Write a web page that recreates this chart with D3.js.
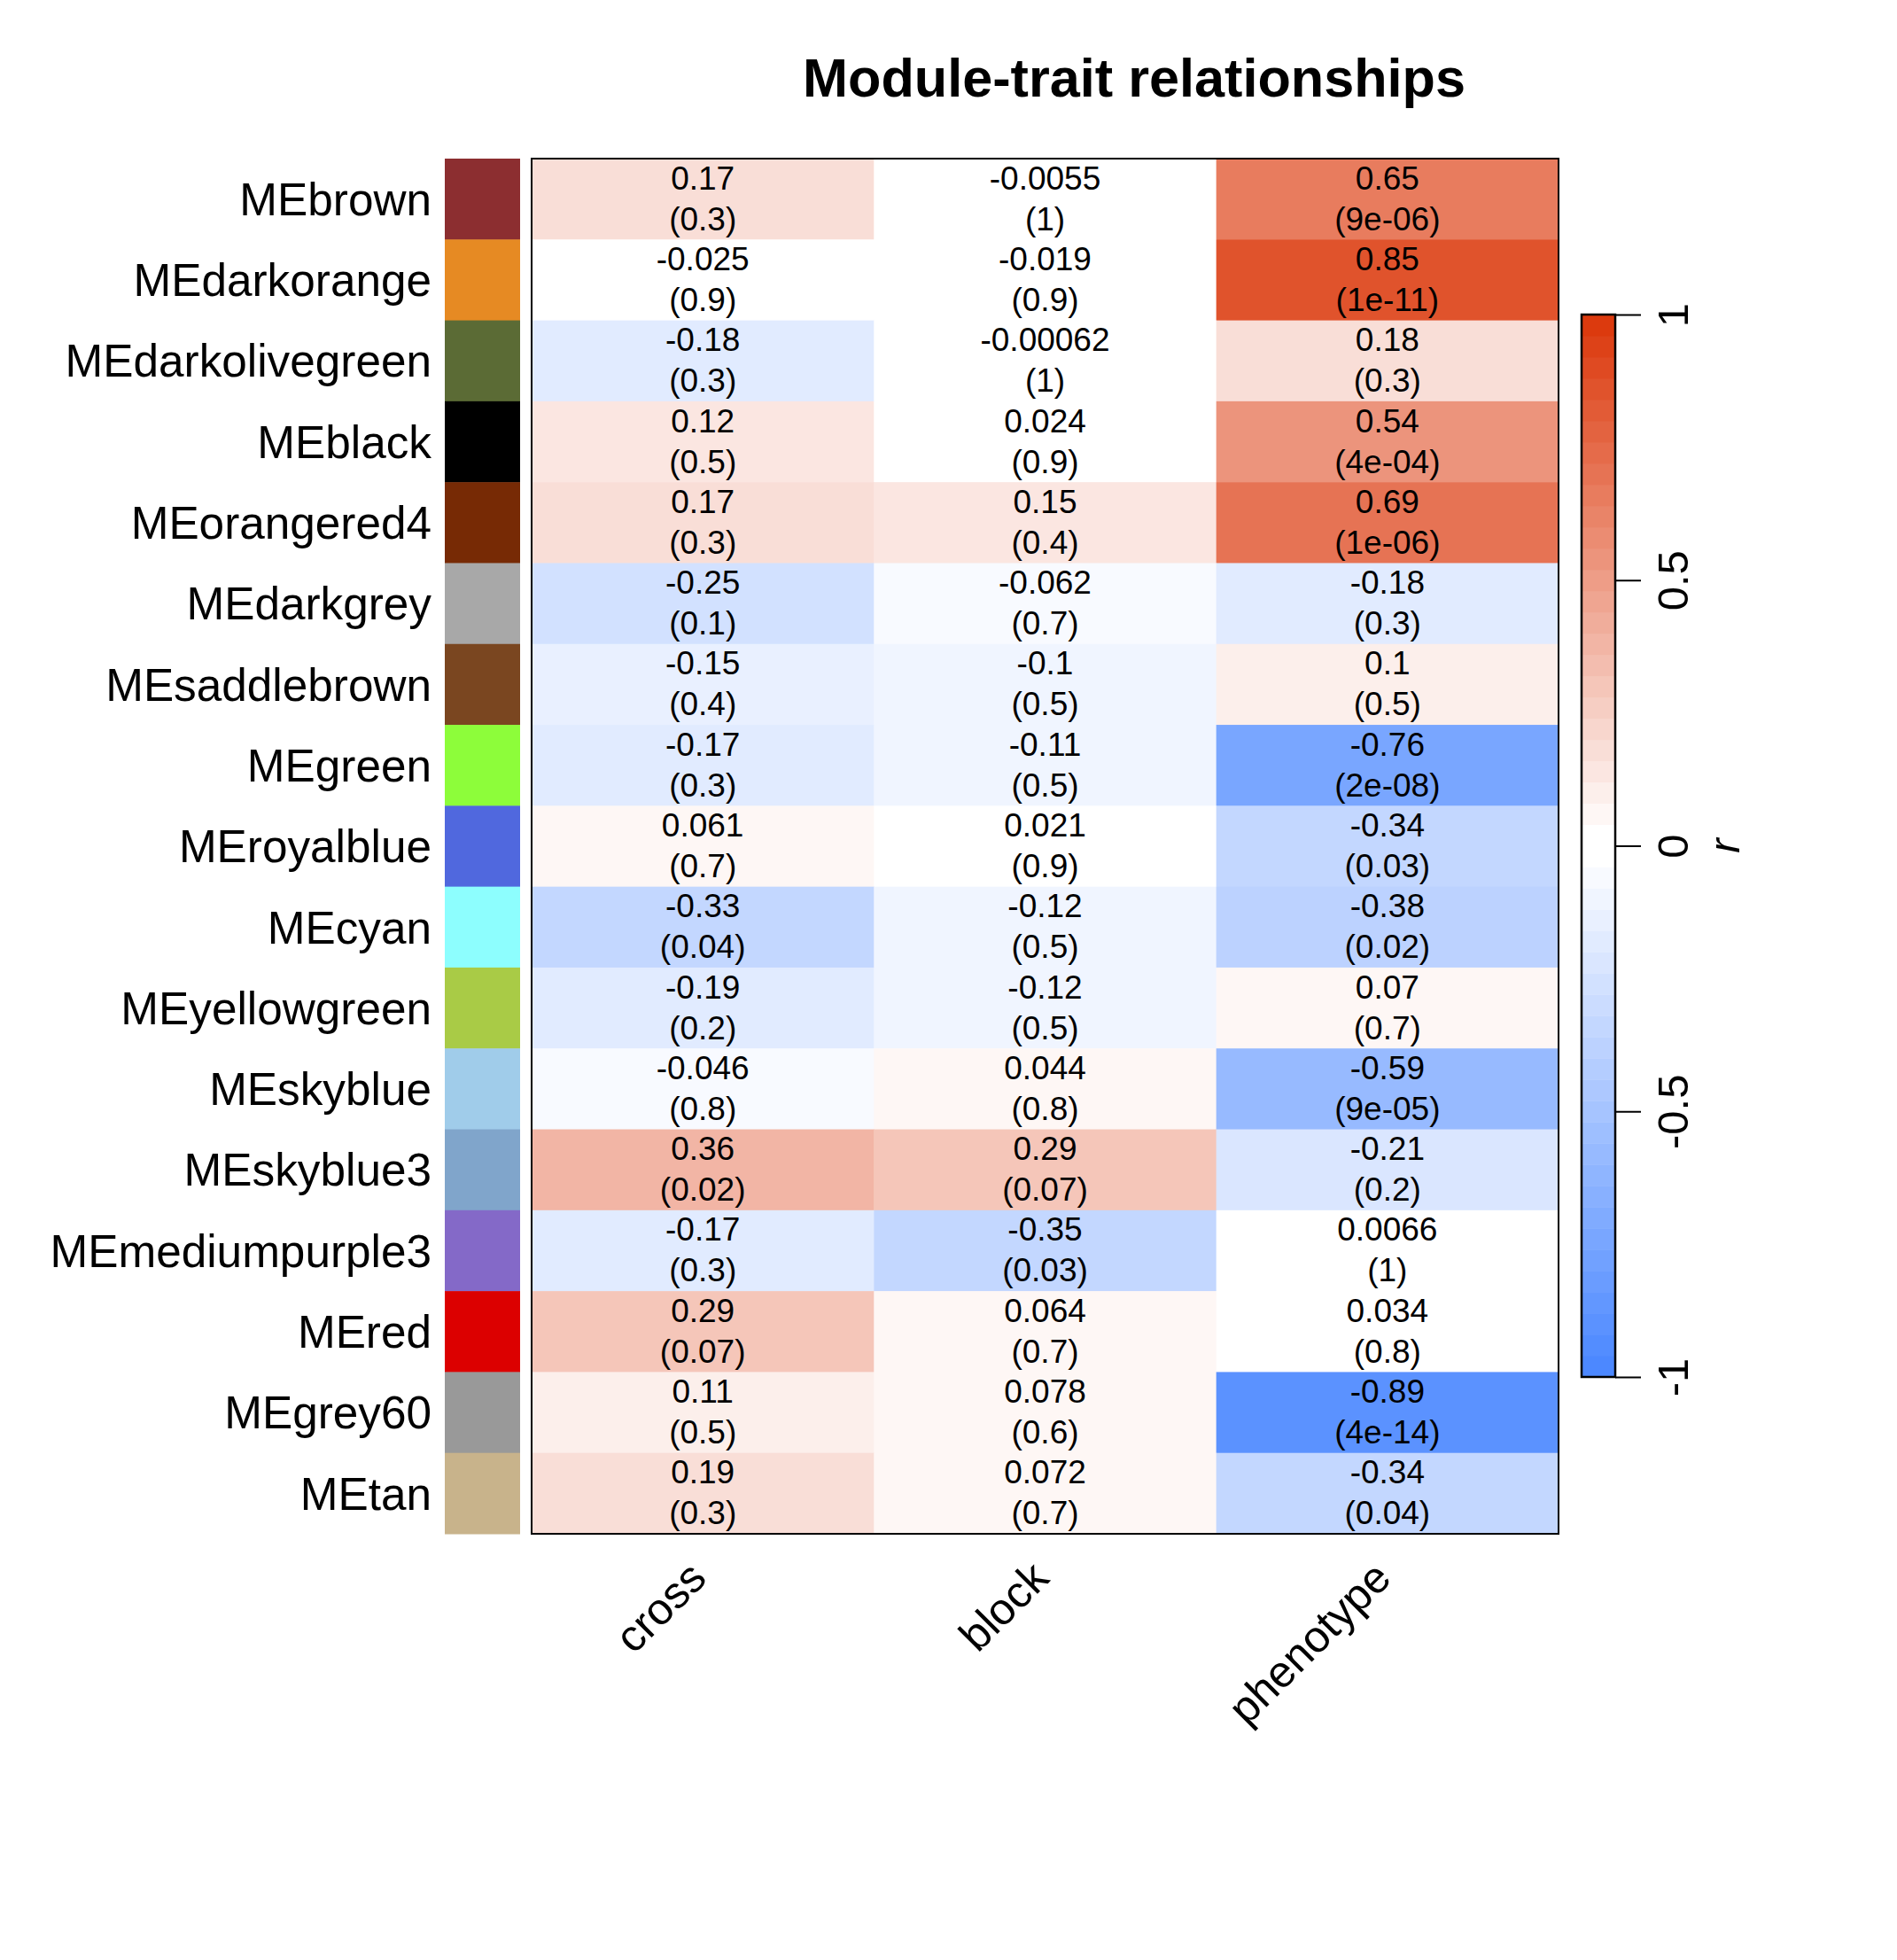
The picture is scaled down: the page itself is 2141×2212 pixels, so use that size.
<!DOCTYPE html>
<html>
<head>
<meta charset="utf-8">
<script src="https://cdn.jsdelivr.net/npm/d3@7"></script>
<style>
  html, body { margin: 0; padding: 0; background: #fff; }
  svg text { font-family: "Liberation Sans", Arial, Helvetica, sans-serif; }
</style>
</head>
<body>
<script>
// ---------- data ----------
const modules = ["MEbrown","MEdarkorange","MEdarkolivegreen","MEblack","MEorangered4","MEdarkgrey",
  "MEsaddlebrown","MEgreen","MEroyalblue","MEcyan","MEyellowgreen","MEskyblue","MEskyblue3",
  "MEmediumpurple3","MEred","MEgrey60","MEtan"];
const moduleColors = ["#8C2E30","#E68A23","#5B6B35","#000000","#772A05","#A8A8A8",
  "#7A4620","#8DFD3A","#5068DE","#8DFEFE","#A9CB46","#A0CCEA","#80A5CB",
  "#8469C8","#DC0000","#999999","#C8B38B"];
const traits = ["cross","block","phenotype"];
const corCross = [0.17,-0.025,-0.18,0.12,0.17,-0.25,-0.15,-0.17,0.061,-0.33,-0.19,-0.046,0.36,-0.17,0.29,0.11,0.19];
const pCross   = ["0.3","0.9","0.3","0.5","0.3","0.1","0.4","0.3","0.7","0.04","0.2","0.8","0.02","0.3","0.07","0.5","0.3"];
const corBlock = [-0.0055,-0.019,-0.00062,0.024,0.15,-0.062,-0.1,-0.11,0.021,-0.12,-0.12,0.044,0.29,-0.35,0.064,0.078,0.072];
const pBlock   = ["1","0.9","1","0.9","0.4","0.7","0.5","0.5","0.9","0.5","0.5","0.8","0.07","0.03","0.7","0.6","0.7"];
const corPheno = [0.65,0.85,0.18,0.54,0.69,-0.18,0.1,-0.76,-0.34,-0.38,0.07,-0.59,-0.21,0.0066,0.034,-0.89,-0.34];
const pPheno   = ["9e-06","1e-11","0.3","4e-04","1e-06","0.3","0.5","2e-08","0.03","0.02","0.7","9e-05","0.2","1","0.8","4e-14","0.04"];
const colorbarTicks = [-1,-0.5,0,0.5,1];
const titleText = "Module-trait relationships";

// ---------- build table ----------
const corBy = {cross: corCross, block: corBlock, phenotype: corPheno};
const pBy = {cross: pCross, block: pBlock, phenotype: pPheno};
const cells = [];
modules.forEach((m, i) => traits.forEach(t => cells.push({module: m, trait: t, r: corBy[t][i], p: pBy[t][i]})));

// ---------- palette (50-step blue-white-red, white in both middle bins) ----------
const nCol = 50, half = nCol / 2;
const blueToWhite = d3.interpolateRgb("#4C88FF", "#FFFFFF");
const whiteToRed = d3.interpolateRgb("#FFFFFF", "#DC3A0E");
const palette = d3.range(half).map(k => blueToWhite(k / (half - 1)))
  .concat(d3.range(half).map(k => whiteToRed(k / (half - 1))));
const binScale = d3.scaleQuantize().domain([-1, 1]).range(palette);

// ---------- layout ----------
const W = 2141, H = 2212;
const heat = {left: 600, right: 1759, top: 179, bottom: 1731};
const strip = {left: 502, right: 587};
const cbar = {left: 1785, right: 1823, top: 355, bottom: 1554};

const svg = d3.select("body").append("svg").attr("width", W).attr("height", H);

const x = d3.scaleBand().domain(traits).range([heat.left, heat.right]);
const y = d3.scaleBand().domain(modules).range([heat.top, heat.bottom]);

// title
svg.append("text").attr("x", 1280).attr("y", 109)
  .attr("text-anchor", "middle").attr("font-size", 61.2).attr("font-weight", "bold")
  .text(titleText);

// module color strip
svg.append("g").selectAll("rect").data(modules).join("rect")
  .attr("x", strip.left).attr("width", strip.right - strip.left)
  .attr("y", d => y(d)).attr("height", y.bandwidth() + 0.5)
  .attr("fill", (d, i) => moduleColors[i]);

// row labels
svg.append("g").selectAll("text").data(modules).join("text")
  .attr("x", 487).attr("y", d => y(d) + y.bandwidth() / 2)
  .attr("dy", "0.355em").attr("text-anchor", "end").attr("font-size", 51.3)
  .text(d => d);

// heatmap cells
svg.append("g").selectAll("rect").data(cells).join("rect")
  .attr("x", d => x(d.trait)).attr("width", x.bandwidth() + 0.5)
  .attr("y", d => y(d.module)).attr("height", y.bandwidth() + 0.5)
  .attr("fill", d => binScale(d.r));

// cell texts
const ct = svg.append("g").attr("font-size", 37).attr("text-anchor", "middle");
ct.selectAll("text.v").data(cells).join("text").attr("class", "v")
  .attr("x", d => x(d.trait) + x.bandwidth() / 2)
  .attr("y", d => y(d.module) + y.bandwidth() / 2 - 11)
  .text(d => String(d.r));
ct.selectAll("text.p").data(cells).join("text").attr("class", "p")
  .attr("x", d => x(d.trait) + x.bandwidth() / 2)
  .attr("y", d => y(d.module) + y.bandwidth() / 2 + 35)
  .text(d => "(" + d.p + ")");

// heatmap border
svg.append("rect").attr("x", heat.left).attr("y", heat.top)
  .attr("width", heat.right - heat.left).attr("height", heat.bottom - heat.top)
  .attr("fill", "none").attr("stroke", "#000").attr("stroke-width", 2);

// column labels
svg.append("g").selectAll("text").data(traits).join("text")
  .attr("transform", d => `translate(${x(d) + x.bandwidth() / 2 - 4},1773) rotate(-45)`)
  .attr("text-anchor", "end").attr("dy", "0.3em").attr("font-size", 50)
  .text(d => d);

// colorbar
const cy = d3.scaleLinear().domain([-1, 1]).range([cbar.bottom, cbar.top]);
const step = 2 / nCol;
svg.append("g").selectAll("rect").data(palette).join("rect")
  .attr("x", cbar.left).attr("width", cbar.right - cbar.left)
  .attr("y", (d, i) => cy(-1 + (i + 1) * step))
  .attr("height", (d, i) => cy(-1 + i * step) - cy(-1 + (i + 1) * step) + 0.5)
  .attr("fill", d => d);
svg.append("rect").attr("x", cbar.left).attr("y", cbar.top)
  .attr("width", cbar.right - cbar.left).attr("height", cbar.bottom - cbar.top)
  .attr("fill", "none").attr("stroke", "#000").attr("stroke-width", 2.5);

const axis = d3.axisRight(cy).tickValues(colorbarTicks).tickSize(29).tickFormat(d => String(d));
const ag = svg.append("g").attr("transform", `translate(${cbar.right},0)`).call(axis);
ag.select(".domain").remove();
ag.selectAll(".tick line").attr("stroke", "#000").attr("stroke-width", 2);
ag.selectAll(".tick text")
  .attr("x", null).attr("dy", null)
  .attr("transform", "translate(65,0) rotate(-90)")
  .attr("text-anchor", "middle").attr("dominant-baseline", "central")
  .attr("fill", "#000").attr("font-size", 49)
  .attr("font-family", "Liberation Sans, Arial, sans-serif");

// colorbar title
svg.append("text").attr("transform", `translate(1946,${(cbar.top + cbar.bottom) / 2}) rotate(-90)`)
  .attr("text-anchor", "middle").attr("dominant-baseline", "central")
  .attr("font-size", 49).attr("font-style", "italic").text("r");
</script>
</body>
</html>
